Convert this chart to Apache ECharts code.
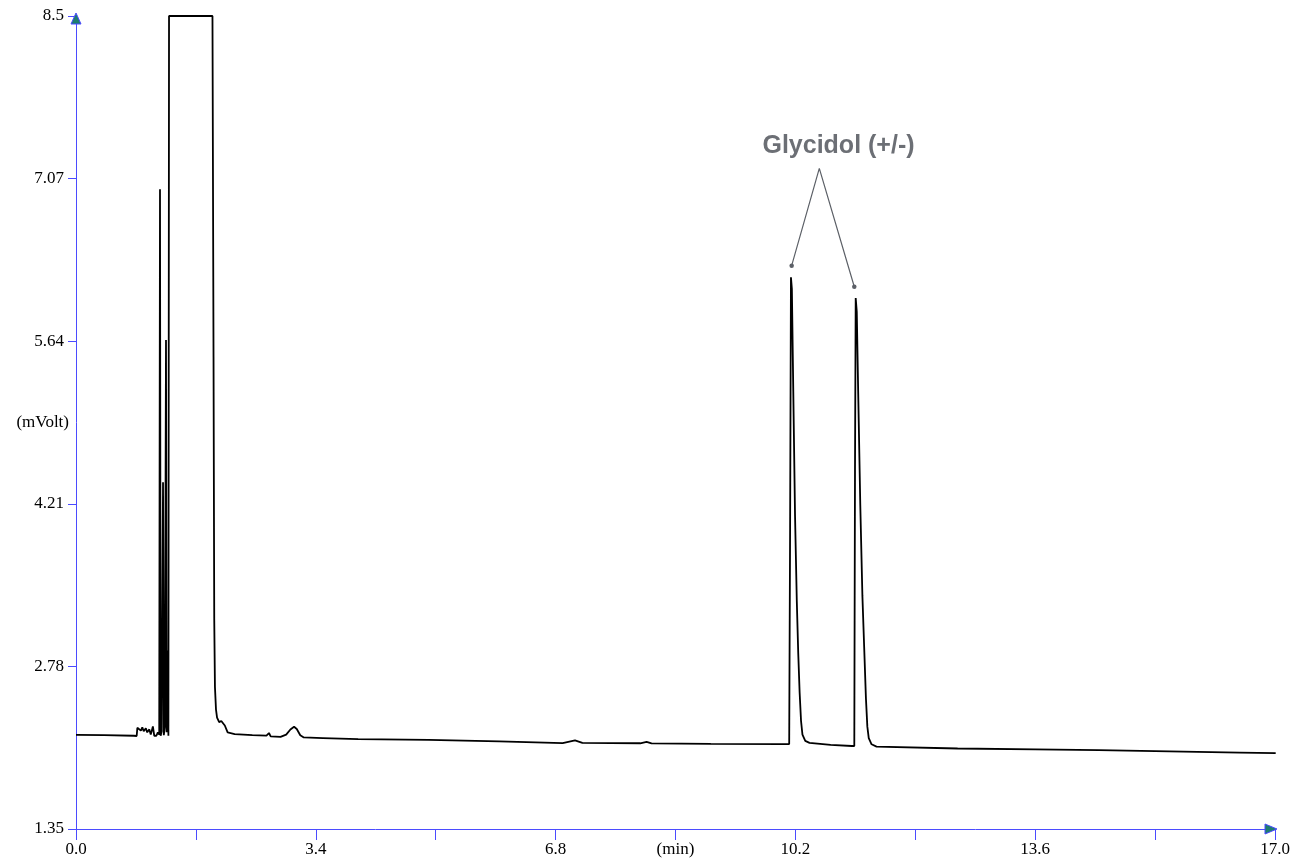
<!DOCTYPE html>
<html>
<head>
<meta charset="utf-8">
<title>Glycidol chromatogram</title>
<script src="https://cdn.jsdelivr.net/npm/echarts@6/dist/echarts.min.js"></script>
<style>
  html, body { margin: 0; padding: 0; background: #ffffff; }
  #chart { width: 1302px; height: 865px; }
</style>
</head>
<body>
<div id="chart"></div>
<script>
// Detector trace: retention time (min) and detector signal (mV)
const retentionTime = [
  0.00, 0.40, 0.82, 0.86, 0.87, 0.89, 0.92, 0.94, 0.96, 0.99, 1.01, 1.04, 1.06, 1.09, 1.11, 1.14, 1.16, 1.18,
  1.191, 1.20, 1.215, 1.234, 1.245, 1.26, 1.276, 1.285, 1.30, 1.31, 1.319,
  1.319, 1.935,
  1.95, 1.96, 1.97, 1.985, 2.00, 2.03, 2.06, 2.085, 2.11, 2.15, 2.25, 2.50, 2.70, 2.736, 2.76, 2.90,
  2.98, 3.04, 3.092, 3.13, 3.18, 3.23, 3.50, 4.00, 5.00, 6.00, 6.90, 7.075, 7.10, 7.18, 8.00, 8.09, 8.16,
  9.00, 10.00, 10.112,
  10.125, 10.137, 10.15, 10.17, 10.195, 10.22, 10.24, 10.26, 10.28, 10.30, 10.34, 10.40, 10.70,
  11.00, 11.035,
  11.045, 11.055, 11.07, 11.09, 11.12, 11.15, 11.175, 11.20, 11.22, 11.24, 11.28, 11.35,
  12.50, 13.60, 14.50, 15.50, 16.50, 17.01
];
const signal = [
  2.177, 2.175, 2.170, 2.168, 2.240, 2.225, 2.215, 2.245, 2.210, 2.236, 2.200, 2.226, 2.180, 2.252, 2.170, 2.170, 2.200, 2.180,
  6.976, 2.170, 2.210, 4.400, 2.175, 2.250, 5.650, 2.200, 2.920, 2.170, 2.170,
  8.500, 8.500,
  5.500, 3.200, 2.600, 2.400, 2.330, 2.290, 2.300, 2.315, 2.260, 2.200, 2.185, 2.176, 2.172, 2.194, 2.165, 2.160,
  2.180, 2.225, 2.249, 2.230, 2.175, 2.155, 2.150, 2.140, 2.133, 2.120, 2.105, 2.130, 2.132, 2.108, 2.104, 2.117, 2.103,
  2.099, 2.097, 2.097,
  4.000, 6.202, 6.100, 5.200, 4.100, 3.350, 2.900, 2.550, 2.300, 2.180, 2.125, 2.108, 2.090,
  2.080, 2.080,
  4.500, 6.020, 5.900, 5.200, 4.200, 3.400, 2.950, 2.500, 2.250, 2.150, 2.095, 2.075,
  2.058, 2.050, 2.043, 2.032, 2.022, 2.018
];

// Axis ticks
const timeTicks = [0, 1.7, 3.4, 5.1, 6.8, 8.5, 10.2, 11.9, 13.6, 15.3, 17.0];
const timeLabels = ['0.0', '', '3.4', '', '6.8', '(min)', '10.2', '', '13.6', '', '17.0'];
const signalTicks = [1.35, 2.78, 4.21, 5.64, 7.07, 8.5];
const signalLabels = ['1.35', '2.78', '4.21', '5.64', '7.07', '8.5'];

// Peak annotation: label anchor, pointer apex and the two peak markers
const annotationText = 'Glycidol (+/-)';
const annotationAnchor = [10.811, 7.357];
const pointerApex = [10.539, 7.16];
const peakMarkers = [[10.147, 6.304], [11.035, 6.119]];

const axisBlue = '#4b4bff';
const serif = '"Liberation Serif", "DejaVu Serif", serif';

const trace = retentionTime.map((t, i) => [t, signal[i]]);

const chart = echarts.init(document.getElementById('chart'), null, { renderer: 'canvas' });

chart.setOption({
  animation: false,
  backgroundColor: '#ffffff',
  grid: { left: 76, right: 27, top: 16, bottom: 36, containLabel: false, outerBoundsMode: 'none' },
  xAxis: {
    type: 'value',
    min: 0,
    max: 17,
    axisLine: { show: true, onZero: false, lineStyle: { color: axisBlue, width: 1 } },
    axisTick: { show: true, length: 11, customValues: timeTicks, lineStyle: { color: axisBlue, width: 1 } },
    axisLabel: {
      show: true,
      customValues: timeTicks,
      margin: 12,
      color: '#000000',
      fontFamily: serif,
      fontSize: 17,
      formatter: (v) => {
        const i = timeTicks.findIndex(x => Math.abs(x - v) < 1e-6);
        return i >= 0 ? timeLabels[i] : '';
      }
    },
    splitLine: { show: false }
  },
  yAxis: {
    type: 'value',
    min: 1.35,
    max: 8.5,
    name: '(mVolt)',
    nameLocation: 'middle',
    nameRotate: 0,
    nameGap: 7,
    nameMoveOverlap: false,
    nameTextStyle: { color: '#000000', fontFamily: serif, fontSize: 17 },
    axisLine: { show: true, onZero: false, lineStyle: { color: axisBlue, width: 1 } },
    axisTick: { show: true, length: 8, customValues: signalTicks, lineStyle: { color: axisBlue, width: 1 } },
    axisLabel: {
      show: true,
      customValues: signalTicks,
      margin: 12,
      color: '#000000',
      fontFamily: serif,
      fontSize: 17,
      formatter: (v) => {
        const i = signalTicks.findIndex(x => Math.abs(x - v) < 1e-6);
        return i >= 0 ? signalLabels[i] : '';
      }
    },
    splitLine: { show: false }
  },
  series: [
    {
      name: 'signal',
      type: 'line',
      data: trace,
      showSymbol: false,
      clip: true,
      lineStyle: { color: '#000000', width: 1.8 },
      z: 3
    },
    {
      name: 'pointer',
      type: 'line',
      data: [
        { value: peakMarkers[0] },
        { value: pointerApex, symbol: 'none' },
        { value: peakMarkers[1] }
      ],
      symbol: 'circle',
      symbolSize: 4.5,
      showSymbol: true,
      lineStyle: { color: '#5c6067', width: 1.2 },
      itemStyle: { color: '#5c6067' },
      z: 4
    },
    {
      name: 'label',
      type: 'scatter',
      data: [annotationAnchor],
      symbolSize: 0,
      label: {
        show: true,
        position: 'inside',
        formatter: annotationText,
        color: '#474b52',
        fontFamily: '"Liberation Sans", Arial, sans-serif',
        fontWeight: 'bold',
        fontSize: 25
      },
      z: 5
    }
  ]
});

// Arrowheads at the far ends of both axes
const xEnd = chart.convertToPixel({ gridIndex: 0 }, [17, 1.35]);
const yEnd = chart.convertToPixel({ gridIndex: 0 }, [0, 8.5]);
const arrowStyle = { fill: '#1d7d6f', stroke: axisBlue, lineWidth: 1 };
chart.setOption({
  graphic: [
    {
      type: 'polygon',
      shape: { points: [[xEnd[0] + 2, xEnd[1]], [xEnd[0] - 10, xEnd[1] - 5], [xEnd[0] - 10, xEnd[1] + 5]] },
      style: arrowStyle,
      z: 10
    },
    {
      type: 'polygon',
      shape: { points: [[yEnd[0], yEnd[1] - 3], [yEnd[0] - 5, yEnd[1] + 8], [yEnd[0] + 5, yEnd[1] + 8]] },
      style: arrowStyle,
      z: 10
    }
  ]
});
</script>
</body>
</html>
